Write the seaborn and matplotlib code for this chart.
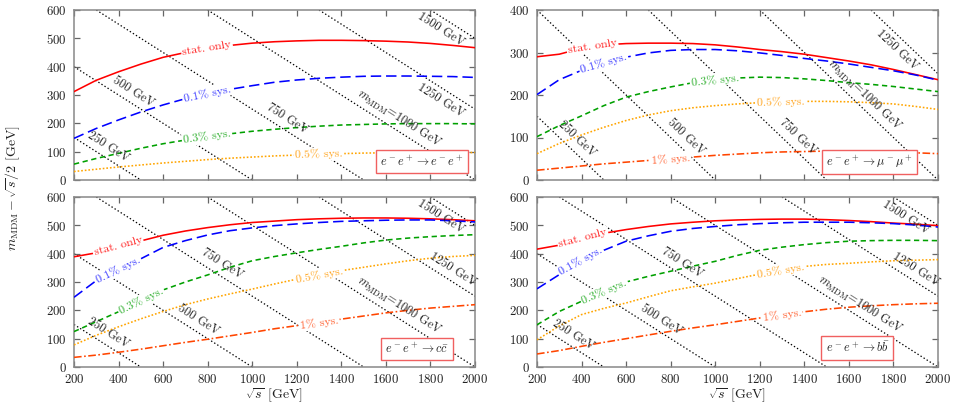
import numpy as np
import matplotlib
matplotlib.use("Agg")
import matplotlib.pyplot as plt
import seaborn as sns

# sqrt(s) grid [GeV]
sqrt_s = [200, 300, 400, 500, 600, 700, 800, 900, 1000, 1100,
          1200, 1300, 1400, 1500, 1600, 1700, 1800, 1900, 2000]

# e-e+ -> e-e+
ee_stat  = [312, 352, 382, 409, 433, 450, 464, 475, 483, 488, 491, 493, 493, 492, 490, 487, 482, 475, 467]
ee_sys01 = [147, 182, 212, 240, 265, 287, 306, 320, 333, 345, 353, 359, 363, 366, 367, 367, 366, 365, 362]
ee_sys03 = [56, 76, 94, 112, 128, 141, 153, 163, 172, 179, 185, 190, 194, 196, 198, 199, 199, 199, 198]
ee_sys05 = [30, 38, 46, 53, 60, 66, 72, 77, 81, 85, 88, 91, 93, 95, 96, 97, 97, 97, 97]

# e-e+ -> mu-mu+
mm_stat  = [290, 296, 310, 318, 321, 322, 322, 321, 318, 313, 307, 302, 296, 288, 280, 271, 260, 248, 236]
mm_sys01 = [201, 236, 258, 275, 289, 299, 305, 307, 307, 304, 299, 293, 286, 280, 273, 265, 257, 247, 235]
mm_sys03 = [102, 128, 151, 175, 195, 208, 219, 229, 236, 240, 242, 241, 238, 234, 229, 225, 220, 214, 208]
mm_sys05 = [62, 86, 106, 124, 140, 153, 163, 170, 175, 179, 182, 184, 185, 185, 184, 182, 179, 173, 166]
mm_sys1  = [23, 28, 33, 38, 42, 46, 50, 54, 58, 61, 64, 66, 67, 68, 68, 67, 66, 64, 62]

# e-e+ -> c cbar
cc_stat  = [389, 403, 426, 445, 465, 480, 492, 502, 510, 515, 520, 523, 525, 526, 526, 525, 523, 520, 516]
cc_sys01 = [246, 305, 345, 382, 422, 446, 466, 481, 491, 499, 505, 510, 514, 516, 518, 519, 519, 516, 512]
cc_sys03 = [125, 160, 195, 232, 272, 300, 325, 352, 375, 390, 403, 415, 426, 438, 448, 455, 460, 464, 467]
cc_sys05 = [78, 112, 142, 170, 196, 220, 240, 258, 275, 293, 310, 325, 340, 352, 364, 375, 384, 390, 394]
cc_sys1  = [34, 42, 52, 63, 75, 87, 98, 110, 122, 135, 146, 157, 169, 180, 191, 200, 208, 214, 220]

# e-e+ -> b bbar
bb_stat  = [416, 430, 455, 472, 485, 496, 505, 511, 516, 519, 521, 522, 522, 520, 517, 513, 508, 504, 499]
bb_sys01 = [276, 326, 375, 412, 444, 463, 479, 489, 496, 502, 506, 509, 511, 511, 511, 509, 506, 501, 494]
bb_sys03 = [149, 196, 232, 267, 300, 320, 338, 356, 373, 394, 412, 423, 432, 439, 444, 446, 447, 447, 446]
bb_sys05 = [96, 145, 185, 207, 226, 248, 269, 283, 296, 312, 328, 342, 355, 362, 366, 371, 375, 377, 379]
bb_sys1  = [46, 58, 73, 87, 100, 113, 126, 138, 149, 161, 173, 184, 195, 204, 211, 216, 220, 223, 225]

m_mdm = [250, 500, 750, 1000, 1250, 1500]

sns.set_theme(style="ticks")
plt.rcParams["font.family"] = "serif"
plt.rcParams["font.serif"] = ["cmr10", "DejaVu Serif"]
plt.rcParams["mathtext.fontset"] = "cm"
plt.rcParams["axes.formatter.use_mathtext"] = True
plt.rcParams["lines.scale_dashes"] = False

styles = {
    "stat":  dict(color="#ff0000", ls="-", text="stat. only", tc="#ff2020"),
    "sys01": dict(color="#0000ff", ls=(0, (7.5, 3.5)), text="0.1% sys.", tc="#3a3aff"),
    "sys03": dict(color="#00a000", ls=(0, (3.8, 2.6)), text="0.3% sys.", tc="#30b030"),
    "sys05": dict(color="#ffa500", ls=(0, (1.2, 1.4)), text="0.5% sys.", tc="#ffa520"),
    "sys1":  dict(color="#ff4500", ls=(0, (5.5, 1.8, 1.2, 1.8)), text="1% sys.", tc="#ff6030"),
}

W, H = 956, 409
def rect(l, t, r, b):
    return [l / W, 1 - b / H, (r - l) / W, (b - t) / H]

fig = plt.figure(figsize=(W / 100, H / 100), dpi=100)

panels = [
    dict(rect=rect(74, 10, 475, 180), ymax=600, box=(0.867, 0.109),
         proc=r"$e^-e^+\rightarrow e^-e^+$",
         curves={"stat": ee_stat, "sys01": ee_sys01, "sys03": ee_sys03, "sys05": ee_sys05},
         lab_x={"stat": 797, "sys01": 797, "sys03": 797, "sys05": 1299},
         mlab=[(250, 330, 1), (500, 442, 1), (750, 1133, 1), (1000, 1632, 1), (1250, 1874, -1), (1500, 1874, -1)]),
    dict(rect=rect(537, 10, 938, 180), ymax=400, box=(0.829, 0.106),
         proc=r"$e^-e^+\rightarrow \mu^-\mu^+$",
         curves={"stat": mm_stat, "sys01": mm_sys01, "sys03": mm_sys03, "sys05": mm_sys05, "sys1": mm_sys1},
         lab_x={"stat": 449, "sys01": 499, "sys03": 999, "sys05": 1294, "sys1": 800},
         mlab=[(250, 344, 1), (500, 833, 1), (750, 1336, 1), (1000, 1636, 1), (1250, 1852, -1)]),
    dict(rect=rect(74, 197, 475, 367), ymax=600, box=(0.855, 0.106),
         proc=r"$e^-e^+\rightarrow c\bar{c}$",
         curves={"stat": cc_stat, "sys01": cc_sys01, "sys03": cc_sys03, "sys05": cc_sys05, "sys1": cc_sys1},
         lab_x={"stat": 398, "sys01": 398, "sys03": 502, "sys05": 1300, "sys1": 1300},
         mlab=[(250, 326, 1), (500, 734, 1), (750, 840, 1), (1000, 1632, 1), (1250, 1874, 1), (1500, 1874, -1)]),
    dict(rect=rect(537, 197, 938, 367), ymax=600, box=(0.799, 0.112),
         proc=r"$e^-e^+\rightarrow b\bar{b}$",
         curves={"stat": bb_stat, "sys01": bb_sys01, "sys03": bb_sys03, "sys05": bb_sys05, "sys1": bb_sys1},
         lab_x={"stat": 405, "sys01": 397, "sys03": 502, "sys05": 1294, "sys1": 1300},
         mlab=[(250, 335, 1), (500, 730, 1), (750, 828, 1), (1000, 1625, 1), (1250, 1874, 1), (1500, 1883, -1)]),
]

def screen_angle(ax, x0, y0, x1, y1):
    p = ax.transData.transform([[x0, y0], [x1, y1]])
    return np.degrees(np.arctan2(p[1, 1] - p[0, 1], p[1, 0] - p[0, 0]))

for i, p in enumerate(panels):
    ax = fig.add_axes(p["rect"])
    ax.set_xlim(200, 2000)
    ax.set_ylim(0, p["ymax"])

    # constant m_MDM lines
    for m in m_mdm:
        ax.axline((2 * m, 0), slope=-0.5, color="black", lw=0.9,
                  ls=(0, (1.0, 1.6)), zorder=1)

    for key, yv in p["curves"].items():
        st = styles[key]
        sns.lineplot(x=sqrt_s, y=yv, ax=ax, color=st["color"], linestyle=st["ls"],
                     lw=1.15, sort=False, estimator=None, zorder=3)

    ax.set_xlim(200, 2000)
    ax.set_ylim(0, p["ymax"])

    # inline curve labels
    for key, xc in p["lab_x"].items():
        yv = p["curves"][key]
        st = styles[key]
        yc = np.interp(xc, sqrt_s, yv)
        ang = screen_angle(ax, xc - 60, np.interp(xc - 60, sqrt_s, yv),
                           xc + 60, np.interp(xc + 60, sqrt_s, yv))
        ax.text(xc, yc, st["text"], color=st["tc"], fontsize=8.6, rotation=ang,
                rotation_mode="anchor", ha="center", va="center", zorder=5,
                bbox=dict(boxstyle="square,pad=0.12", fc="white", ec="none"))

    # m_MDM line labels
    for m, xc, side in p["mlab"]:
        yc = m - xc / 2
        ang = screen_angle(ax, xc, yc, xc + 100, yc - 50)
        t = np.radians(ang)
        d = 7.8 * side
        txt = r"$m_{\rm MDM}$=1000 GeV" if m == 1000 else f"{m} GeV"
        ax.annotate(txt, xy=(xc, yc), xytext=(-np.sin(t) * d, np.cos(t) * d),
                    textcoords="offset points", rotation=ang, rotation_mode="anchor",
                    ha="center", va="center", fontsize=8.8, color="#222222", zorder=4)

    ax.text(p["box"][0], p["box"][1], p["proc"], transform=ax.transAxes,
            ha="center", va="center", fontsize=8.8, color="#222222", zorder=6,
            bbox=dict(boxstyle="square,pad=0.35", fc="white", ec="#f06060", lw=1.0))

    ax.set_xticks(range(200, 2001, 200))
    ax.set_yticks(range(0, p["ymax"] + 1, 100))
    ax.tick_params(direction="in", length=4, width=0.9, color="#666666",
                   top=True, right=True, labelsize=9.3, labelcolor="#222222")
    ax.tick_params(axis="y", pad=5)
    ax.tick_params(axis="x", pad=4)
    if i < 2:
        ax.tick_params(labelbottom=False)
    for sp in ax.spines.values():
        sp.set_color("#888888")
        sp.set_linewidth(1.1)
    ax.set_xlabel("")
    ax.set_ylabel("")

fig.text(0.013, 1 - 188 / H, r"$m_{\rm MDM}-\sqrt{s}/2$ [GeV]", rotation=90,
         ha="center", va="center", fontsize=10, color="#222222")
for xl in (74, 537):
    fig.text((xl + 200.5) / W, 1 - 395 / H, r"$\sqrt{s}$ [GeV]",
             ha="center", va="center", fontsize=10, color="#222222")

fig.savefig("out.png", dpi=100)
